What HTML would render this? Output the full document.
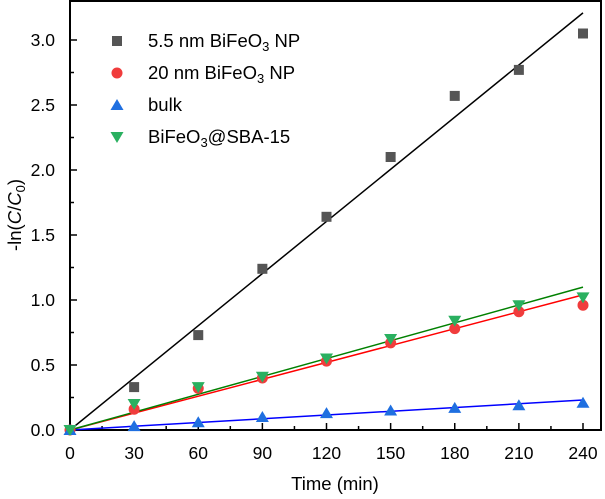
<!DOCTYPE html>
<html><head><meta charset="utf-8"><style>
body{margin:0;background:#fff;}
svg{display:block;font-family:"Liberation Sans",Arial,sans-serif;}
</style></head><body>
<svg id="c" width="605" height="499" xmlns="http://www.w3.org/2000/svg"></svg>
<script>
const times=[0,30,60,90,120,150,180,210,240];
const s55=[0,0.33,0.73,1.24,1.64,2.10,2.57,2.77,3.05];
const s20=[0,0.16,0.32,0.40,0.53,0.67,0.78,0.91,0.96];
const sBulk=[0,0.03,0.06,0.10,0.13,0.15,0.17,0.19,0.21];
const sSBA=[0,0.20,0.33,0.41,0.55,0.70,0.84,0.96,1.02];
const fitSlopes=[0.01337,0.00433,0.00096,0.00458];
const xTicks=[0,30,60,90,120,150,180,210,240];
const yTicks=[0,0.5,1.0,1.5,2.0,2.5,3.0];
const NS='http://www.w3.org/2000/svg';
const svg=document.getElementById('c');
const X=v=>70+v*2.1375, Y=v=>430-v*130;
function el(t,a,p){const e=document.createElementNS(NS,t);for(const k in a)e.setAttribute(k,a[k]);(p||svg).appendChild(e);return e;}
const frame=el('rect',{x:70,y:1,width:531,height:429,fill:'none',stroke:'#000','stroke-width':2});


xTicks.forEach((t,i)=>{
  el('line',{x1:X(t),x2:X(t),y1:430,y2:423,stroke:'#000','stroke-width':1.5});
  if(i<xTicks.length-1){const m=(t+xTicks[i+1])/2;el('line',{x1:X(m),x2:X(m),y1:430,y2:426,stroke:'#000','stroke-width':1.5});}
  const tx=el('text',{x:X(t),y:459,'text-anchor':'middle','font-size':17.5});tx.textContent=t;
  
  
});
yTicks.forEach((t,i)=>{
  el('line',{x1:70,x2:77,y1:Y(t),y2:Y(t),stroke:'#000','stroke-width':1.5});
  if(i<yTicks.length-1){const m=(t+yTicks[i+1])/2;el('line',{x1:70,x2:74,y1:Y(m),y2:Y(m),stroke:'#000','stroke-width':1.5});}
  const tx=el('text',{x:55,y:Y(t)+6,'text-anchor':'end','font-size':17.5});tx.textContent=t.toFixed(1);
  
  
});
const xt=el('text',{x:335,y:490,'text-anchor':'middle','font-size':18.5});xt.textContent='Time (min)';


const yt=el('text',{transform:'translate(21,215) rotate(-90)','text-anchor':'middle','font-size':18.5});
yt.innerHTML='-ln(<tspan font-style="italic">C</tspan>/<tspan font-style="italic">C</tspan><tspan font-size="13" dy="4">0</tspan><tspan dy="-4">)</tspan>';


const series=[[s55,'#555555','#000000','sq'],[s20,'#f03c3c','#ff0000','ci'],[sBulk,'#1f6fe0','#0000ff','up'],[sSBA,'#2ab060','#008000','dn']];
function marker(type,x,y,c,g){
  if(type==='sq')return el('rect',{x:x-5,y:y-5,width:10,height:10,fill:c},g);
  if(type==='ci')return el('circle',{cx:x,cy:y,r:5.5,fill:c},g);
  if(type==='up')return el('polygon',{points:`${x},${y-6} ${x-6.5},${y+5} ${x+6.5},${y+5}`,fill:c},g);
  return el('polygon',{points:`${x},${y+6} ${x-6.5},${y-5} ${x+6.5},${y-5}`,fill:c},g);
}
series.forEach((s,k)=>{
  const ln=el('line',{x1:X(0),y1:Y(0),x2:X(240),y2:Y(fitSlopes[k]*240),stroke:s[2],'stroke-width':1.5});
  
  
});
series.forEach(s=>{
  s[0].forEach((v,i)=>{
    const m=marker(s[3],X(times[i]),Y(v),s[1]);
    
    
  });
});
const labels=['5.5 nm BiFeO<tspan font-size="13" dy="4">3</tspan><tspan dy="-4"> NP</tspan>','20 nm BiFeO<tspan font-size="13" dy="4">3</tspan><tspan dy="-4"> NP</tspan>','bulk','BiFeO<tspan font-size="13" dy="4">3</tspan><tspan dy="-4">@SBA-15</tspan>'];
series.forEach((s,k)=>{
  const g=el('g',{});
  
  
  const y=41+k*32;
  marker(s[3],117,y,s[1],g);
  const t=el('text',{x:148,y:y+6,'font-size':18.5},g);t.innerHTML=labels[k];
});
</script>
</body></html>
